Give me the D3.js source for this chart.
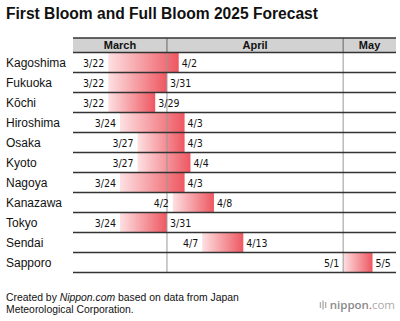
<!DOCTYPE html>
<html>
<head>
<meta charset="utf-8">
<script src="https://cdn.jsdelivr.net/npm/d3@7"></script>
<style>
  body { margin: 0; background: #fff; }
  svg { display: block; font-family: "Liberation Sans", Arial, Helvetica, sans-serif; }
</style>
</head>
<body>
<div id="chart"></div>
<script>
// Forecast data (Japan Meteorological Corporation)
const cities = ["Kagoshima", "Fukuoka", "K\u014dchi", "Hiroshima", "Osaka", "Kyoto",
                "Nagoya", "Kanazawa", "Tokyo", "Sendai", "Sapporo"];
const firstBloom = ["3/22", "3/22", "3/22", "3/24", "3/27", "3/27", "3/24", "4/2", "3/24", "4/7", "5/1"];
const fullBloom  = ["4/2", "3/31", "3/29", "4/3", "4/3", "4/4", "4/3", "4/8", "3/31", "4/13", "5/5"];
const months = ["March", "April", "May"];

const width = 400, height = 321;
const left = 73, right = 396;
const headerTop = 38, headerBottom = 52.5, rowH = 20;

const parse = s => { const [m, d] = s.split("/").map(Number); return new Date(Date.UTC(2025, m - 1, d)); };
const nextDay = dt => new Date(dt.getTime() + 864e5);

const data = cities.map((c, i) => ({
  city: c,
  first: firstBloom[i],
  full: fullBloom[i],
  start: parse(firstBloom[i]),
  end: nextDay(parse(fullBloom[i]))
}));

const x = d3.scaleUtc()
    .domain([new Date(Date.UTC(2025, 2, 16)), new Date(Date.UTC(2025, 4, 10))])
    .range([left, right]);

const y = d3.scaleBand()
    .domain(cities)
    .range([headerBottom, headerBottom + rowH * cities.length]);

const svg = d3.select("#chart").append("svg")
    .attr("width", width)
    .attr("height", height);

const grad = svg.append("defs").append("linearGradient")
    .attr("id", "bloom")
    .attr("x1", 0).attr("x2", 1).attr("y1", 0).attr("y2", 0);
grad.append("stop").attr("offset", "0%").attr("stop-color", "#fde0e2");
grad.append("stop").attr("offset", "100%").attr("stop-color", "#ee5761");

// Title
svg.append("text")
    .attr("x", 6).attr("y", 19)
    .attr("font-size", 15.6).attr("font-weight", "bold")
    .attr("fill", "#111")
    .text("First Bloom and Full Bloom 2025 Forecast");

// Month header
const [d0, d1] = x.domain();
const monthStarts = d3.utcMonth.range(d3.utcMonth.floor(d0), d1);
const monthSpans = monthStarts.map((m, i) => ({
  name: months[i],
  x0: x(m < d0 ? d0 : m),
  x1: x(i < monthStarts.length - 1 ? monthStarts[i + 1] : d1)
}));

svg.append("rect")
    .attr("x", left).attr("y", headerTop)
    .attr("width", right - left).attr("height", headerBottom - headerTop)
    .attr("fill", "#d2d2d2");

svg.selectAll(".month")
    .data(monthSpans)
    .join("text")
    .attr("x", d => (d.x0 + d.x1) / 2)
    .attr("y", headerTop + 10.5)
    .attr("text-anchor", "middle")
    .attr("font-size", 11).attr("font-weight", "bold")
    .attr("fill", "#111")
    .text(d => d.name);

// Bars
svg.selectAll(".bar")
    .data(data)
    .join("rect")
    .attr("x", d => x(d.start))
    .attr("y", d => y(d.city))
    .attr("width", d => x(d.end) - x(d.start))
    .attr("height", y.bandwidth())
    .attr("fill", "url(#bloom)");

// Month boundary lines
const bottom = headerBottom + rowH * cities.length;
svg.selectAll(".mline")
    .data(monthStarts.filter(m => m > d0))
    .join("line")
    .attr("x1", d => x(d)).attr("x2", d => x(d))
    .attr("y1", headerBottom).attr("y2", bottom)
    .attr("stroke", "#999").attr("stroke-width", 1);

svg.selectAll(".hline")
    .data(monthStarts.filter(m => m > d0))
    .join("line")
    .attr("x1", d => x(d)).attr("x2", d => x(d))
    .attr("y1", headerTop).attr("y2", headerBottom)
    .attr("stroke", "#666").attr("stroke-width", 1);

// Row lines
svg.append("line")
    .attr("x1", left).attr("x2", right)
    .attr("y1", headerTop).attr("y2", headerTop)
    .attr("stroke", "#333").attr("stroke-width", 1.5);

svg.selectAll(".rline")
    .data(cities)
    .join("line")
    .attr("x1", left).attr("x2", right)
    .attr("y1", d => y(d)).attr("y2", d => y(d))
    .attr("stroke", "#333").attr("stroke-width", 1.6);

svg.append("line")
    .attr("x1", left).attr("x2", right)
    .attr("y1", bottom).attr("y2", bottom)
    .attr("stroke", "#333").attr("stroke-width", 1.6);

// City names
svg.selectAll(".city")
    .data(data)
    .join("text")
    .attr("x", 6)
    .attr("y", d => y(d.city) + y.bandwidth() / 2 + 4.5)
    .attr("font-size", 12)
    .attr("fill", "#111")
    .text(d => d.city);

// Date labels
const dateFont = "'Liberation Sans Narrow', 'Arial Narrow', 'DejaVu Sans Condensed', sans-serif";
svg.selectAll(".first")
    .data(data)
    .join("text")
    .attr("x", d => x(d.start) - 4)
    .attr("y", d => y(d.city) + y.bandwidth() / 2 + 4)
    .attr("text-anchor", "end")
    .attr("font-family", dateFont)
    .attr("font-size", 10.5)
    .attr("fill", "#111")
    .text(d => d.first);

svg.selectAll(".full")
    .data(data)
    .join("text")
    .attr("x", d => x(d.end) + 3)
    .attr("y", d => y(d.city) + y.bandwidth() / 2 + 4)
    .attr("font-family", dateFont)
    .attr("font-size", 10.5)
    .attr("fill", "#111")
    .text(d => d.full);

// Footer
const foot = svg.append("text")
    .attr("x", 6).attr("y", 301)
    .attr("font-size", 10.4)
    .attr("fill", "#111");
foot.append("tspan").text("Created by ");
foot.append("tspan").attr("font-style", "italic").text("Nippon.com");
foot.append("tspan").text(" based on data from Japan");
svg.append("text")
    .attr("x", 6).attr("y", 313)
    .attr("font-size", 10.4)
    .attr("fill", "#111")
    .text("Meteorological Corporation.");

// Logo
const logo = svg.append("g").attr("transform", "translate(395,309)");
const lt = logo.append("text")
    .attr("x", 0).attr("y", 0)
    .attr("text-anchor", "end")
    .attr("font-family", "'Open Sans', 'Noto Sans', sans-serif")
    .attr("font-size", 11.5);
lt.append("tspan").attr("fill", "#8a8a8a").attr("font-weight", 600).text("nippon");
lt.append("tspan").attr("fill", "#e8383d").text(".");
lt.append("tspan").attr("fill", "#aaa").text("com");
const logoW = lt.node().getComputedTextLength();
[0, 2.6, 5.2].forEach((dx, i) => {
  logo.append("rect")
      .attr("x", -logoW - 10 + dx).attr("y", i === 1 ? -8.5 : -7)
      .attr("width", 1.4).attr("height", i === 1 ? 9 : 6)
      .attr("fill", "#b0b0b0");
});
</script>
</body>
</html>
